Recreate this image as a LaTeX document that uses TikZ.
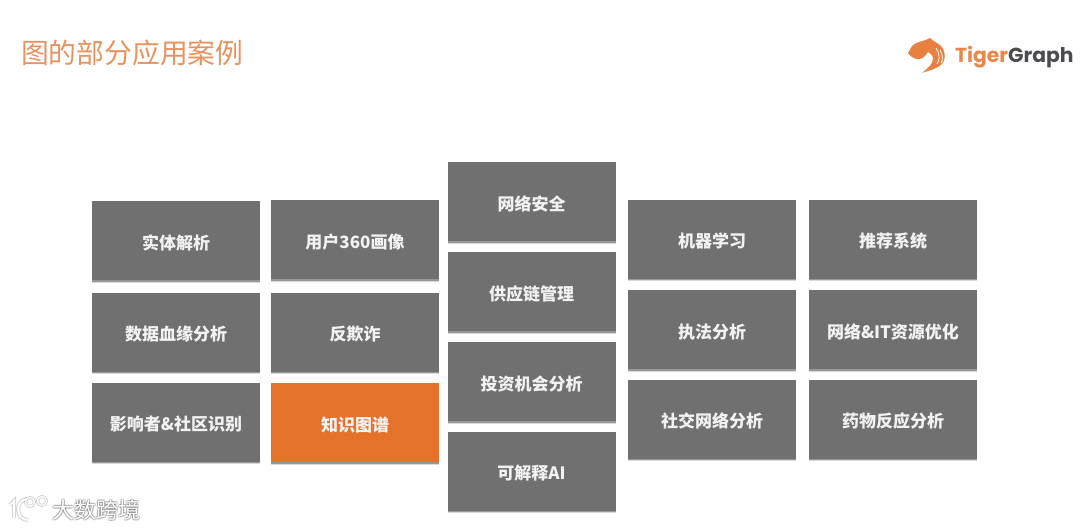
\documentclass[tikz,border=0pt]{standalone}
\usepackage{fontspec}
\setmainfont{Noto Sans CJK SC}
\newfontfamily\logofont{Poppins}
\usetikzlibrary{shadows}
\definecolor{boxgray}{HTML}{717070}
\definecolor{tigerorange}{HTML}{E4722B}
\definecolor{titleorange}{HTML}{E8935F}
\definecolor{logogray}{HTML}{4A4C50}
\begin{document}
\begin{tikzpicture}[x=1pt,y=-1pt]

    \tikzset{
      usecase/.style={
        fill=boxgray,
        text=white!95!black,
        inner sep=0pt,
        minimum width=168pt,
        minimum height=79pt,
        text height=16.6pt,
        text depth=0pt,
        font=\bfseries\fontsize{17}{17}\selectfont,
        drop shadow={shadow xshift=0pt,shadow yshift=-2.2pt,opacity=0.15,fill=black},
        drop shadow={shadow xshift=0pt,shadow yshift=-1.2pt,opacity=0.3,fill=black},
      },
      highlight/.style={
        usecase,
        fill=tigerorange,
      },
      mark text/.style={
        anchor=west,
        inner sep=0pt,
        font=\fontsize{22}{22}\selectfont,
      },
    }
    \useasboundingbox (0,0) rectangle (1080,529);
    \fill[white] (0,0) rectangle (1080,529);

    \node[text=titleorange,anchor=west,inner sep=0pt,font=\fontsize{27.8}{27.8}\selectfont] (title) at (21,53) {图的部分应用案例};

    \node[usecase] (entity) at (176,241) {实体解析};
    \node[usecase] (lineage) at (176,332.5) {数据血缘分析};
    \node[usecase] (influencer) at (176,422.5) {影响者\&社区识别};

    \node[usecase] (customer) at (355,240) {用户360画像};
    \node[usecase] (fraud) at (355,332.5) {反欺诈};
    \node[highlight] (knowledge) at (355,423) {知识图谱};

    \node[usecase] (security) at (531.5,202) {网络安全};
    \node[usecase] (supply) at (531.5,292) {供应链管理};
    \node[usecase] (invest) at (531.5,382) {投资机会分析};
    \node[usecase] (explain) at (531.5,471.5) {可解释AI};

    \node[usecase] (learning) at (712,239.5) {机器学习};
    \node[usecase] (enforce) at (712,330) {执法分析};
    \node[usecase] (social) at (712,419.5) {社交网络分析};

    \node[usecase] (recommend) at (893,239.5) {推荐系统};
    \node[usecase] (resource) at (893,330) {网络\&IT资源优化};
    \node[usecase] (drug) at (893,419.5) {药物反应分析};

    % logo
    \fill[tigerorange!90!white] (908,53) -- (912,46) .. controls (917,41) and (923,42) .. (930,38)
      .. controls (934,42) and (938,43) .. (941,46)
      .. controls (946,52) and (947,62) .. (938,67)
      .. controls (933,70) and (927,71) .. (922,73)
      .. controls (928,68) and (933,64) .. (933,59)
      .. controls (933,55) and (930,53) .. (928,52)
      .. controls (925,57) and (921,60) .. (916,59)
      .. controls (913,58) and (910,56) .. (908,53) -- cycle;
    \draw[white,line width=0.8pt] (936,48) .. controls (940,54) and (940,60) .. (937,64);
    \draw[white,line width=0.8pt] (940,50) .. controls (943,55) and (943,60) .. (941,63);
    \node[anchor=west,inner sep=0pt,font=\logofont\bfseries\fontsize{20.3}{20.3}\selectfont] (brand) at (955,57) {\textcolor{tigerorange!85!white}{Tiger}\textcolor{logogray}{Graph}};

    % watermark
    \foreach \dx/\dy in {-1/0,1/0,0/-1,0/1,1/1,-1/1,1/-1,-1/-1}
      \node[mark text,text=black,opacity=0.12] at (52+\dx,510+\dy) {大数跨境};
    \node[mark text,text=white] (watermark) at (52,510) {大数跨境};
    \draw[black,opacity=0.18,line width=4pt] (10,505) -- (14,501) -- (14,518);
    \draw[black,opacity=0.18,line width=4pt] (27,499) .. controls (15,500) and (15,520) .. (28,520);
    \draw[black,opacity=0.18,line width=3pt] (30,502) circle (4.5pt) (42,501) circle (4.5pt);
    \draw[white,line width=2pt] (10,505) -- (14,501) -- (14,518);
    \draw[white,line width=2pt] (27,499) .. controls (15,500) and (15,520) .. (28,520);
    \draw[white,line width=1.2pt] (30,502) circle (4.5pt) (42,501) circle (4.5pt);

\end{tikzpicture}
\end{document}
